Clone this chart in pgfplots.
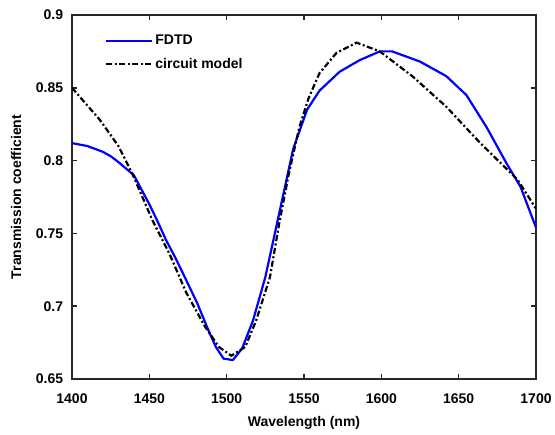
\documentclass[border=0pt]{standalone}
\usepackage{fontspec}
\setmainfont{Liberation Sans}
\usepackage{pgfplots}
\pgfplotsset{compat=1.18}
\definecolor{axgray}{RGB}{38,38,38}
\begin{document}
\bfseries\fontsize{14}{16}\selectfont
\begin{tikzpicture}
\begin{axis}[
    scale only axis,
    width=464pt, height=364pt,
    xmin=1400, xmax=1700,
    ymin=0.65, ymax=0.9,
    xtick={1400,1450,...,1700},
    ytick={0.65,0.7,0.75,0.8,0.85,0.9},
    yticklabels={0.65,0.7,0.75,0.8,0.85,0.9},
    xticklabels={1400,1450,1500,1550,1600,1650,1700},
    tick align=inside,
    major tick length=5pt,
    axis line style={draw=axgray, line width=1.6pt},
    tick style={draw=axgray, line width=1.6pt},
    xticklabel style={yshift=-10pt},
    yticklabel style={xshift=-4pt},
    xlabel={Wavelength (nm)},
    ylabel={Transmission coefficient},
    xlabel style={at={(axis description cs:0.5,0)}, anchor=center, yshift=-44pt},
    ylabel style={at={(axis description cs:0,0.5)}, anchor=center, yshift=56pt},
    legend style={at={(axis description cs:0,1)}, anchor=north west,
        xshift=30pt, yshift=-13pt, draw=none, fill=none,
        nodes={inner ysep=5pt}, row sep=1pt},
    legend cell align={left},
    legend image code/.code={\draw[#1] (0pt,0pt) -- (46pt,0pt);},
]
\coordinate (bl) at (rel axis cs:0,0);
\coordinate (tr) at (rel axis cs:1,1);
\addplot[color=blue, line width=2.2pt, line join=round]
    coordinates {
        (1400, 0.812)
        (1410, 0.810)
        (1420, 0.806)
        (1425, 0.803)
        (1430, 0.799)
        (1440, 0.790)
        (1444, 0.782)
        (1450, 0.770)
        (1455, 0.759)
        (1461, 0.745)
        (1466, 0.735)
        (1472, 0.722)
        (1481, 0.702)
        (1488, 0.684)
        (1493, 0.672)
        (1498, 0.664)
        (1504, 0.663)
        (1510, 0.671)
        (1517, 0.690)
        (1525, 0.720)
        (1533, 0.759)
        (1543, 0.808)
        (1552, 0.835)
        (1560, 0.848)
        (1573, 0.861)
        (1586, 0.869)
        (1599, 0.875)
        (1607, 0.875)
        (1625, 0.868)
        (1642, 0.858)
        (1655, 0.845)
        (1668, 0.823)
        (1681, 0.798)
        (1690, 0.782)
        (1700, 0.754)
    };
\addlegendentry{FDTD}
\addplot[color=black, line width=2.2pt,
    dash pattern=on 6pt off 2.5pt on 2pt off 2.5pt]
    coordinates {
        (1400, 0.850)
        (1418, 0.828)
        (1430, 0.810)
        (1439, 0.791)
        (1452, 0.759)
        (1463, 0.736)
        (1474, 0.709)
        (1486, 0.686)
        (1495, 0.672)
        (1503, 0.666)
        (1512, 0.672)
        (1519, 0.690)
        (1528, 0.720)
        (1534, 0.757)
        (1540, 0.790)
        (1547, 0.823)
        (1553, 0.843)
        (1560, 0.860)
        (1571, 0.874)
        (1584, 0.881)
        (1599, 0.875)
        (1620, 0.858)
        (1642, 0.837)
        (1664, 0.812)
        (1688, 0.787)
        (1700, 0.767)
    };
\addlegendentry{circuit model}
\end{axis}
\pgfresetboundingbox
\path ([shift={(-72pt,-55pt)}]bl) rectangle ([shift={(19pt,15pt)}]tr);
\end{tikzpicture}
\end{document}
